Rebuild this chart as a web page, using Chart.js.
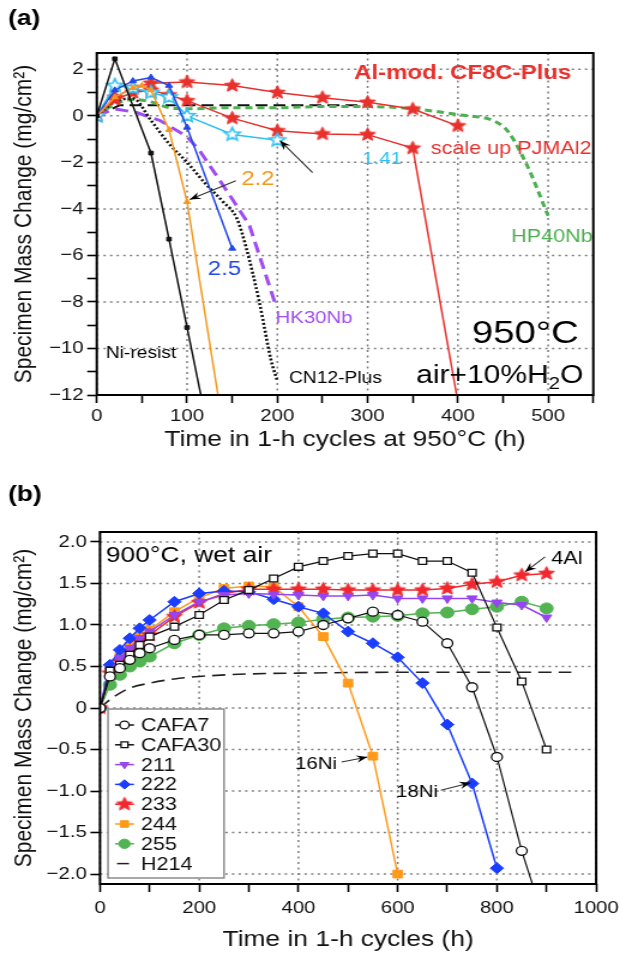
<!DOCTYPE html>
<html>
<head>
<meta charset="utf-8">
<script src="https://cdn.jsdelivr.net/npm/chart.js@4.4.1/dist/chart.umd.min.js"></script>
<style>
  html, body { margin: 0; padding: 0; background: #fff; width: 626px; height: 956px; overflow: hidden; }
  .panel { position: absolute; left: 0; transform-origin: 0 0; }
</style>
</head>
<body>
<div id="boxA" class="panel" style="top:0;height:460px"><canvas id="chartA"></canvas></div>
<div id="boxB" class="panel" style="top:460px;height:496px"><canvas id="chartB"></canvas></div>
<script>
// ---- panel (a): 950°C, air+10%H2O ----
const niResistX = [0, 20, 60, 80, 100, 120];
const niResistY = [0, 2.45, -1.6, -5.3, -9.1, -12.9];
const cn12X = [0, 20, 40, 60, 80, 100, 120, 140, 155, 165, 180, 193, 200];
const cn12Y = [0, 0.6, 0.75, -0.2, -1.2, -2.0, -2.9, -3.7, -4.4, -5.6, -8.0, -10.5, -11.4];
const al22X = [0, 20, 40, 50, 60, 80, 100, 140];
const al22Y = [0, 0.8, 1.2, 1.3, 1.1, -0.6, -3.7, -13.4];
const al25X = [0, 20, 40, 60, 80, 100, 150];
const al25Y = [0, 1.1, 1.5, 1.65, 1.3, -0.5, -5.7];
const al141X = [0, 20, 40, 60, 80, 100, 150, 200];
const al141Y = [0, 1.3, 1.2, 1.0, 0.8, 0.0, -0.8, -1.05];
const cf8cX = [0, 20, 40, 60, 100, 150, 200, 250, 300, 350, 400];
const cf8cY = [0, 0.8, 1.2, 1.4, 1.45, 1.3, 1.0, 0.78, 0.58, 0.29, -0.43];
const pjmX = [0, 20, 40, 60, 80, 100, 150, 200, 250, 300, 350, 400];
const pjmY = [0, 0.7, 1.0, 1.1, 0.9, 0.65, -0.1, -0.64, -0.78, -0.81, -1.39, -12.3];
const hp40X = [0, 20, 40, 60, 80, 100, 150, 200, 250, 300, 350, 400, 450, 475, 500];
const hp40Y = [0, 0.5, 0.7, 0.6, 0.35, 0.3, 0.35, 0.35, 0.4, 0.4, 0.3, 0.05, -0.45, -2.0, -4.3];
const refDashX = [0, 25, 300];
const refDashY = [0, 0.45, 0.45];
const hk30X = [0, 20, 44, 70, 100, 114, 147, 169, 197];
const hk30Y = [0, 0.3, 0.14, -0.2, -0.9, -1.5, -3.4, -4.7, -8.0];

// ---- panel (b): 900°C wet air ----
const timeB = [0, 20, 40, 60, 80, 100, 150, 200, 250, 300, 350, 400, 450, 500, 550, 600, 650, 700, 750, 800, 850, 900];
const cafa7 = [0, 0.38, 0.48, 0.58, 0.66, 0.72, 0.82, 0.88, 0.88, 0.90, 0.90, 0.92, 1.00, 1.08, 1.16, 1.12, 1.04, 0.78, 0.25, -0.59, -1.72, -2.65];
const cafa30 = [0, 0.45, 0.52, 0.64, 0.76, 0.86, 0.98, 1.12, 1.30, 1.42, 1.56, 1.70, 1.77, 1.83, 1.86, 1.86, 1.77, 1.77, 1.63, 0.97, 0.32, -0.5];
const a211 = [0, 0.45, 0.60, 0.72, 0.84, 0.92, 1.12, 1.28, 1.36, 1.38, 1.37, 1.36, 1.35, 1.35, 1.36, 1.32, 1.32, 1.32, 1.32, 1.27, 1.24, 1.09];
const a222 = [0, 0.52, 0.70, 0.84, 0.96, 1.06, 1.28, 1.38, 1.41, 1.40, 1.31, 1.22, 1.14, 0.92, 0.78, 0.61, 0.30, -0.20, -0.91, -1.93];
const a233 = [0, 0.42, 0.56, 0.68, 0.80, 0.88, 1.10, 1.27, 1.38, 1.43, 1.43, 1.43, 1.43, 1.42, 1.42, 1.42, 1.42, 1.44, 1.49, 1.52, 1.60, 1.62];
const a244 = [0, 0.44, 0.62, 0.74, 0.86, 0.94, 1.16, 1.33, 1.44, 1.47, 1.46, 1.22, 0.86, 0.30, -0.58, -2.0];
const a255 = [0, 0.28, 0.40, 0.50, 0.56, 0.62, 0.78, 0.88, 0.96, 0.99, 1.01, 1.03, 1.07, 1.09, 1.10, 1.11, 1.14, 1.15, 1.19, 1.22, 1.28, 1.20];
const h214X = [0, 20, 40, 60, 100, 150, 200, 300, 400, 600, 800, 950];
const h214Y = [0, 0.10, 0.18, 0.24, 0.30, 0.35, 0.38, 0.41, 0.42, 0.43, 0.43, 0.43];

const legendB = ['CAFA7', 'CAFA30', '211', '222', '233', '244', '255', 'H214'];

// the source figure is stretched sideways, so each panel is drawn narrow and scaled in x
const W0 = 522;
const SX = 626 / W0;
const FONT = "'Liberation Sans', Arial, sans-serif";

function pts(xs, ys) { return xs.map((x, i) => ({ x: x, y: ys[i] })); }

function makeStar(r, fill, stroke, lw) {
    const s = Math.ceil(2 * r + lw + 2);
    const c = document.createElement('canvas');
    c.width = s; c.height = s;
    const g = c.getContext('2d');
    g.beginPath();
    for (let i = 0; i < 10; i++) {
        const rad = i % 2 ? r * 0.45 : r;
        const a = -Math.PI / 2 + i * Math.PI / 5;
        g.lineTo(s / 2 + rad * Math.cos(a), s / 2 + rad * Math.sin(a));
    }
    g.closePath();
    g.fillStyle = fill; g.fill();
    g.strokeStyle = stroke; g.lineWidth = lw; g.stroke();
    return c;
}

// dotted grid on the major ticks only
const dotGridPlugin = {
    id: 'dotGrid',
    beforeDatasetsDraw(chart, args, opts) {
        const { ctx, chartArea: a } = chart;
        const xs = chart.scales.x, ys = chart.scales.y;
        ctx.save();
        ctx.strokeStyle = '#808080';
        ctx.lineWidth = 1.5;
        ctx.setLineDash([2, 3.5]);
        xs.ticks.forEach(t => {
            if (Math.abs(t.value % opts.xStep) > 1e-6) return;
            const px = xs.getPixelForValue(t.value);
            ctx.beginPath(); ctx.moveTo(px, a.top); ctx.lineTo(px, a.bottom); ctx.stroke();
        });
        ys.ticks.forEach(t => {
            if (Math.abs(t.value % opts.yStep) > 1e-6) return;
            const py = ys.getPixelForValue(t.value);
            ctx.beginPath(); ctx.moveTo(a.left, py); ctx.lineTo(a.right, py); ctx.stroke();
        });
        ctx.restore();
    }
};

// frame round the plot area
const framePlugin = {
    id: 'frame',
    afterDraw(chart) {
        const { ctx, chartArea: a } = chart;
        ctx.save();
        ctx.strokeStyle = '#000';
        ctx.lineWidth = 2;
        ctx.strokeRect(a.left, a.top, a.right - a.left, a.bottom - a.top);
        ctx.restore();
    }
};

// texts and arrows placed in data units
const notesPlugin = {
    id: 'notes',
    afterDatasetsDraw(chart, args, opts) {
        const { ctx } = chart;
        const xs = chart.scales.x, ys = chart.scales.y;
        ctx.save();
        (opts.arrows || []).forEach(a => {
            const x1 = xs.getPixelForValue(a.from[0]), y1 = ys.getPixelForValue(a.from[1]);
            const x2 = xs.getPixelForValue(a.to[0]), y2 = ys.getPixelForValue(a.to[1]);
            ctx.strokeStyle = '#333';
            ctx.lineWidth = 1.1;
            ctx.beginPath(); ctx.moveTo(x1, y1); ctx.lineTo(x2, y2); ctx.stroke();
            const ang = Math.atan2(y2 - y1, x2 - x1), L = 10, w = 0.38;
            ctx.fillStyle = '#000';
            ctx.beginPath();
            ctx.moveTo(x2, y2);
            ctx.lineTo(x2 - L * Math.cos(ang - w), y2 - L * Math.sin(ang - w));
            ctx.lineTo(x2 - 0.6 * L * Math.cos(ang), y2 - 0.6 * L * Math.sin(ang));
            ctx.lineTo(x2 - L * Math.cos(ang + w), y2 - L * Math.sin(ang + w));
            ctx.closePath(); ctx.fill();
        });
        (opts.texts || []).forEach(t => {
            ctx.font = t.font;
            ctx.fillStyle = t.color || '#000';
            ctx.textBaseline = 'middle';
            ctx.textAlign = 'left';
            const parts = t.parts || [[t.text, false]];
            const size = parseFloat(t.font.match(/(\d+)px/)[1]);
            const subFont = t.font.replace(/\d+px/, Math.round(size * 0.68) + 'px');
            let total = 0;
            parts.forEach(p => { ctx.font = p[1] ? subFont : t.font; total += ctx.measureText(p[0]).width; });
            let px = t.px !== undefined ? t.px / SX : xs.getPixelForValue(t.x);
            const py = t.py !== undefined ? t.py : ys.getPixelForValue(t.y);
            if (t.align === 'right') px -= total;
            parts.forEach(p => {
                ctx.font = p[1] ? subFont : t.font;
                ctx.fillText(p[0], px, p[1] ? py + size * 0.3 : py);
                px += ctx.measureText(p[0]).width;
            });
        });
        ctx.restore();
    }
};

// legend box inside panel (b)
const boxLegendPlugin = {
    id: 'boxLegend',
    afterDatasetsDraw(chart, args, opts) {
        if (!opts.labels) return;
        const { ctx } = chart;
        const top = 709 - 460, left = 108 / SX, right = 224 / SX, bottom = 878 - 460;
        ctx.save();
        ctx.fillStyle = '#fff';
        ctx.fillRect(left, top, right - left, bottom - top);
        ctx.strokeStyle = '#8c8c8c';
        ctx.lineWidth = 1.5;
        ctx.strokeRect(left, top, right - left, bottom - top);
        opts.labels.forEach((name, i) => {
            const ds = chart.data.datasets[i];
            const y = 725 - 460 + i * 19.8;
            const x0 = 115 / SX, x1 = 134 / SX, xm = (x0 + x1) / 2;
            ctx.strokeStyle = ds.borderColor;
            ctx.lineWidth = 1.5;
            ctx.setLineDash([]);
            ctx.beginPath();
            ctx.moveTo(i === 7 ? 117 / SX : x0, y);
            ctx.lineTo(i === 7 ? 129 / SX : x1, y);
            ctx.stroke();
            if (ds.pointRadius > 0) {
                ctx.fillStyle = ds.pointBackgroundColor;
                ctx.strokeStyle = ds.pointBorderColor;
                ctx.lineWidth = ds.pointBorderWidth;
                Chart.helpers.drawPoint(ctx, {
                    pointStyle: ds.pointStyle, rotation: ds.pointRotation || 0,
                    radius: ds.pointRadius * 0.85, borderWidth: ds.pointBorderWidth
                }, xm, y);
            }
            ctx.fillStyle = '#111';
            ctx.font = '18px ' + FONT;
            ctx.textBaseline = 'middle';
            ctx.fillText(name, 141 / SX, y + 1);
        });
        ctx.restore();
    }
};

function lineSet(label, data, color, extra) {
    return Object.assign({
        label: label, data: data,
        borderColor: color, borderWidth: 1.5,
        pointBackgroundColor: color, pointBorderColor: color, pointBorderWidth: 1,
        pointRadius: 0, pointStyle: 'circle', tension: 0, fill: false
    }, extra || {});
}

function axes(o) {
    return {
        x: {
            type: 'linear', min: o.xMin, max: o.xMax,
            ticks: {
                stepSize: o.xMinor, includeBounds: false, autoSkip: false, maxRotation: 0,
                padding: o.xTickPad, color: '#111', font: { family: FONT, size: 17 },
                callback: v => (Math.abs(v % o.xMajor) < 1e-6 ? String(v) : '')
            },
            grid: { drawOnChartArea: false, color: '#000', tickColor: '#000', tickWidth: 1.6, tickLength: 8 },
            border: { display: false },
            title: { display: true, text: o.xTitle, color: '#111', font: { family: FONT, size: 22 }, padding: { top: 0, bottom: o.xTitlePad } },
            afterFit: s => { s.height = o.xHeight; }
        },
        y: {
            type: 'linear', min: o.yMin, max: o.yMax,
            ticks: {
                stepSize: o.yMinor, includeBounds: false, autoSkip: false,
                padding: 3, color: '#111', font: { family: FONT, size: 17 },
                callback: o.yLabel
            },
            grid: { drawOnChartArea: false, color: '#000', tickColor: '#000', tickWidth: 1.6, tickLength: 8 },
            border: { display: false },
            title: { display: true, text: 'Specimen Mass Change (mg/cm²)', color: '#111', font: { family: FONT, size: 21 }, padding: { top: o.yTitlePad, bottom: 0 } },
            afterFit: s => { s.width = o.yWidth; }
        }
    };
}

function setupBox(id) {
    const box = document.getElementById(id);
    box.style.width = W0 + 'px';
    box.style.transform = 'scaleX(' + SX + ')';
}
setupBox('boxA');
setupBox('boxB');

const red = '#e8302c', orangeA = '#f39a1e', blueA = '#2348e8', cyan = '#2fc1f0', greenA = '#4caf50', purpleA = '#a04cf2';

new Chart(document.getElementById('chartA'), {
    type: 'line',
    data: {
        datasets: [
            lineSet('Ni-resist', pts(niResistX, niResistY), '#111', { pointRadius: 2.6, pointStyle: 'rect' }),
            lineSet('2.2', pts(al22X, al22Y), orangeA, { pointRadius: 3.2, pointStyle: 'triangle' }),
            lineSet('2.5', pts(al25X, al25Y), blueA, { pointRadius: 3.4, pointStyle: 'triangle' }),
            lineSet('1.41', pts(al141X, al141Y), cyan, { pointRadius: 7, pointStyle: makeStar(7, '#fff', cyan, 1.6) }),
            lineSet('Al-mod. CF8C-Plus', pts(cf8cX, cf8cY), red, { pointRadius: 7, pointStyle: makeStar(7, red, red, 1) }),
            lineSet('scale up PJMAl2', pts(pjmX, pjmY), red, { pointRadius: 7, pointStyle: makeStar(7, red, red, 1) }),
            lineSet('CN12-Plus', pts(cn12X, cn12Y), '#111', { borderWidth: 2.6, borderDash: [2, 2], tension: 0.3, cubicInterpolationMode: 'monotone' }),
            lineSet('HK30Nb', pts(hk30X, hk30Y), purpleA, { borderWidth: 3, borderDash: [11, 6] }),
            lineSet('HP40Nb', pts(hp40X, hp40Y), greenA, { borderWidth: 3, borderDash: [6, 4], tension: 0.3, cubicInterpolationMode: 'monotone' }),
            lineSet('ref', pts(refDashX, refDashY), '#111', { borderWidth: 2, borderDash: [10, 5] })
        ]
    },
    options: {
        responsive: true, maintainAspectRatio: false, animation: false, events: [],
        layout: { padding: { top: 53, right: W0 - 593.3 / SX, left: 0, bottom: 0 } },
        scales: axes({
            xMin: 0, xMax: 550, xMinor: 50, xMajor: 100, xTickPad: 3,
            xTitle: 'Time in 1-h cycles at 950°C (h)', xTitlePad: 7, xHeight: 65,
            yMin: -12, yMax: 2.7, yMinor: 1, yTitlePad: 8, yWidth: 96.8 / SX,
            yLabel: v => (Math.abs(v % 2) < 1e-6 ? String(v).replace('-', '−') : '')
        }),
        plugins: {
            legend: { display: false }, tooltip: { enabled: false },
            dotGrid: { xStep: 100, yStep: 2 },
            notes: {
                arrows: [
                    { from: [239, -2.44], to: [203, -1.07] },
                    { from: [154, -2.79], to: [103, -3.6] }
                ],
                texts: [
                    { text: '(a)', px: 8, py: 19, font: 'bold 22px ' + FONT },
                    { text: 'Al-mod. CF8C-Plus', x: 285, y: 1.8, color: red, font: 'bold 20px ' + FONT },
                    { text: 'scale up PJMAl2', x: 370, y: -1.41, color: red, font: '18px ' + FONT },
                    { text: 'HP40Nb', x: 459, y: -5.2, color: greenA, font: '18px ' + FONT },
                    { text: '1.41', x: 294, y: -1.85, color: cyan, font: '17px ' + FONT },
                    { text: '2.2', x: 160, y: -2.75, color: orangeA, font: '20px ' + FONT },
                    { text: '2.5', x: 123, y: -6.6, color: blueA, font: '20px ' + FONT },
                    { text: 'HK30Nb', x: 198, y: -8.7, color: purpleA, font: '17px ' + FONT },
                    { text: 'Ni-resist', x: 10, y: -10.2, font: '16px ' + FONT },
                    { text: 'CN12-Plus', x: 213, y: -11.3, font: '16px ' + FONT },
                    { text: '950°C', x: 534, y: -9.4, align: 'right', font: '32px ' + FONT },
                    { parts: [['air+10%H', false], ['2', true], ['O', false]], x: 539, y: -11.2, align: 'right', font: '25px ' + FONT }
                ]
            }
        }
    },
    plugins: [dotGridPlugin, notesPlugin, framePlugin]
});

const purpleB = '#9645f0', blueB = '#1a3dff', redB = '#f0282d', orangeB = '#ff9a1a', greenB = '#52b352';

new Chart(document.getElementById('chartB'), {
    type: 'line',
    data: {
        datasets: [
            lineSet('CAFA7', pts(timeB, cafa7), '#111', { borderWidth: 1.2, pointRadius: 4.5, pointStyle: 'circle', pointBackgroundColor: '#fff', pointBorderWidth: 1.3 }),
            lineSet('CAFA30', pts(timeB, cafa30), '#111', { borderWidth: 1.2, pointRadius: 4.8, pointStyle: 'rect', pointBackgroundColor: '#fff', pointBorderWidth: 1.3 }),
            lineSet('211', pts(timeB, a211), purpleB, { pointRadius: 5, pointStyle: 'triangle', pointRotation: 180 }),
            lineSet('222', pts(timeB, a222), blueB, { pointRadius: 5.5, pointStyle: 'rectRot' }),
            lineSet('233', pts(timeB, a233), redB, { pointRadius: 7, pointStyle: makeStar(7, redB, redB, 1) }),
            lineSet('244', pts(timeB, a244), orangeB, { pointRadius: 5.5, pointStyle: 'rect' }),
            lineSet('255', pts(timeB, a255), greenB, { pointRadius: 5.5, pointStyle: 'circle' }),
            lineSet('H214', pts(h214X, h214Y), '#222', { borderWidth: 1.6, borderDash: [11, 6], tension: 0.4, cubicInterpolationMode: 'monotone' })
        ]
    },
    options: {
        responsive: true, maintainAspectRatio: false, animation: false, events: [],
        layout: { padding: { top: 72, right: W0 - 600 / SX, left: 0, bottom: 0 } },
        scales: axes({
            xMin: 0, xMax: 1000, xMinor: 100, xMajor: 200, xTickPad: 6,
            xTitle: 'Time in 1-h cycles (h)', xTitlePad: 3, xHeight: 72,
            yMin: -2.12, yMax: 2.12, yMinor: 0.5, yTitlePad: 8, yWidth: 100 / SX,
            yLabel: v => (Math.abs(v) < 1e-6 ? '0' : v.toFixed(1).replace('-', '−'))
        }),
        plugins: {
            legend: { display: false }, tooltip: { enabled: false },
            dotGrid: { xStep: 200, yStep: 0.5 },
            boxLegend: { labels: legendB },
            notes: {
                arrows: [
                    { from: [897, 1.82], to: [857, 1.64] },
                    { from: [487, -0.65], to: [539, -0.59] },
                    { from: [687, -0.99], to: [747, -0.9] }
                ],
                texts: [
                    { text: '(b)', px: 8, py: 35, font: 'bold 22px ' + FONT },
                    { text: '900°C, wet air', x: 12, y: 1.83, font: '22px ' + FONT },
                    { text: '4Al', x: 910, y: 1.8, font: '18px ' + FONT },
                    { text: '16Ni', x: 393, y: -0.68, font: '17px ' + FONT },
                    { text: '18Ni', x: 597, y: -1.01, font: '17px ' + FONT }
                ]
            }
        }
    },
    plugins: [dotGridPlugin, notesPlugin, boxLegendPlugin, framePlugin]
});
</script>
</body>
</html>
